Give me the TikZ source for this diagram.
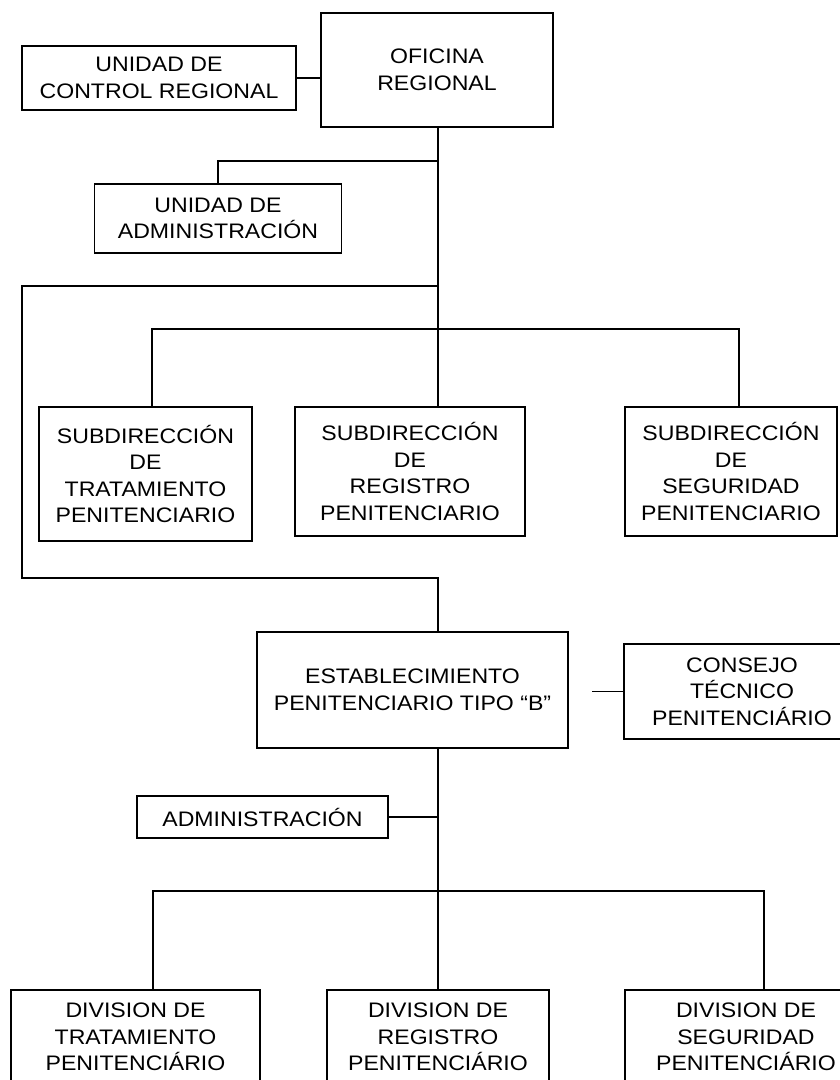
\documentclass[tikz,border=0pt]{standalone}
\usepackage{fontspec}
\setmainfont{Liberation Sans}[FakeStretch=1.1]
\begin{document}
\begin{tikzpicture}[x=1pt,y=-1pt,
  box/.style={draw,line width=1.8pt,inner sep=0pt,align=center,
    font=\fontsize{21}{26.5}\selectfont},
  link/.style={line width=1.8pt}]
\useasboundingbox (0,0) rectangle (840,1080);
\clip (0,0) rectangle (840,1080);
% nodes
\node[box,minimum width=232pt,minimum height=114pt] (ofi) at (437,70) {OFICINA\\REGIONAL};
\node[box,minimum width=274pt,minimum height=64pt] (ucr) at (159,78) {UNIDAD DE\\CONTROL REGIONAL};
\node[box,minimum width=247pt,minimum height=69pt] (adm) at (218,218.5) {UNIDAD DE\\ADMINISTRACIÓN};
\node[box,minimum width=213pt,minimum height=134pt] (s1) at (145.5,474) {SUBDIRECCIÓN\\DE\\TRATAMIENTO\\PENITENCIARIO};
\node[box,minimum width=230pt,minimum height=129pt] (s2) at (410,471.5) {SUBDIRECCIÓN\\DE\\REGISTRO\\PENITENCIARIO};
\node[box,minimum width=212pt,minimum height=129pt] (s3) at (731,471.5) {SUBDIRECCIÓN\\DE\\SEGURIDAD\\PENITENCIARIO};
\node[box,minimum width=311pt,minimum height=116pt] (est) at (412.5,690) {ESTABLECIMIENTO\\PENITENCIARIO TIPO “B”};
\node[box,minimum width=236pt,minimum height=95pt] (con) at (742,691.5) {CONSEJO\\TÉCNICO\\PENITENCIÁRIO};
\node[box,minimum width=251pt,minimum height=42pt] (adm2) at (262.5,817) {ADMINISTRACIÓN};
\node[box,minimum width=249pt,minimum height=94pt] (d1) at (135.5,1037) {DIVISION DE\\TRATAMIENTO\\PENITENCIÁRIO};
\node[box,minimum width=222pt,minimum height=94pt] (d2) at (438,1037) {DIVISION DE\\REGISTRO\\PENITENCIÁRIO};
\node[box,minimum width=242pt,minimum height=94pt] (d3) at (746,1037) {DIVISION DE\\SEGURIDAD\\PENITENCIÁRIO};
% coordinates
\coordinate (tb) at (438,161);
\coordinate (la) at (438,286);
\coordinate (lb) at (22,286);
\coordinate (lc) at (22,578);
\coordinate (ld) at (438,578);
\coordinate (b1) at (152,329);
\coordinate (b3) at (739,329);
\coordinate (cj) at (592,688);
\coordinate (e1) at (438,748);
\coordinate (c1) at (153,891);
\coordinate (c3) at (764,891);
% connectors
\draw[link] (ucr.east) -- (ucr.east -| ofi.west);
\draw[link] (ofi.south -| tb) -- (s2.north -| tb);
\draw[link] (tb) -- (tb -| adm.north) -- (adm.north);
\draw[link] (la) -- (lb) -- (lc) -- (ld) -- (est.north -| ld);
\draw[link] (b1 |- s1.north) -- (b1) -- (b3) -- (b3 |- s3.north);
\draw[link] (cj |- con.west) -- (con.west);
\draw[link] (e1) -- (d2.north -| e1);
\draw[link] (adm2.east) -- (adm2.east -| e1);
\draw[link] (c1 |- d1.north) -- (c1) -- (c3) -- (c3 |- d3.north);
\end{tikzpicture}
\end{document}
